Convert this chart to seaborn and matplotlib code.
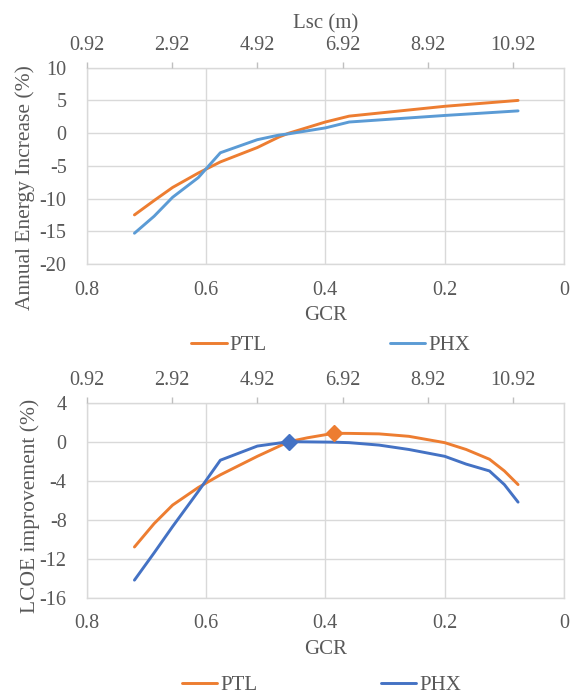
import matplotlib
matplotlib.use("Agg")
import numpy as np
import pandas as pd
import matplotlib.pyplot as plt
import seaborn as sns

# ---- values ----
gcr_energy = [0.72, 0.687, 0.656, 0.613, 0.576, 0.514, 0.478, 0.461, 0.40, 0.36, 0.2, 0.077]
ptl_energy = [-12.5, -10.3, -8.3, -6.1, -4.4, -2.2, -0.6, 0.0, 1.7, 2.6, 4.1, 5.0]
phx_energy = [-15.3, -12.7, -9.8, -6.8, -3.0, -1.0, -0.3, -0.1, 0.8, 1.7, 2.7, 3.4]

gcr_lcoe = [0.72, 0.687, 0.656, 0.613, 0.576, 0.514, 0.461, 0.43, 0.386, 0.36,
            0.31, 0.26, 0.2, 0.164, 0.125, 0.1, 0.077]
ptl_lcoe = [-10.8, -8.4, -6.5, -4.7, -3.4, -1.5, 0.0, 0.4, 0.86, 0.85,
            0.8, 0.55, -0.1, -0.8, -1.8, -3.0, -4.4]
phx_lcoe = [-14.2, -11.4, -8.7, -5.1, -1.9, -0.45, 0.0, -0.02, -0.05, -0.1,
            -0.35, -0.8, -1.5, -2.3, -3.0, -4.4, -6.2]

sites = ["PTL", "PHX"]
lsc_ticks = [0.92, 2.92, 4.92, 6.92, 8.92, 10.92]
lsc_range = (0.92, 12.11)

ORANGE = "#ED7D31"
TEXT = "#595959"
GRID = "#D9D9D9"

sns.set_theme(style="whitegrid")
plt.rcParams["font.family"] = ["Liberation Serif", "DejaVu Serif"]
plt.rcParams["axes.unicode_minus"] = False


def long_frame(gcr, ptl, phx):
    return pd.DataFrame({
        "GCR": gcr + gcr,
        "value": ptl + phx,
        "Site": ["PTL"] * len(gcr) + ["PHX"] * len(gcr),
    })


def draw_panel(ax, gcr, ptl, phx, phx_color, ylim, yticks, ylabel,
               ylab_pos, xlab_y, leg_pos, markers=False, lsc_label=False):
    df = long_frame(gcr, ptl, phx)
    pal = {"PTL": ORANGE, "PHX": phx_color}
    sns.lineplot(data=df, x="GCR", y="value", hue="Site", hue_order=sites,
                 palette=pal, linewidth=2.1, ax=ax, sort=True)

    if markers:
        # optimum of each series
        for name, vals in zip(sites, [ptl, phx]):
            i = int(np.argmax(vals))
            ax.plot(gcr[i], vals[i], marker="D", markersize=8,
                    color=pal[name], zorder=5, linestyle="none")

    ax.set_xlim(0.8, 0)
    ax.set_xticks([0.8, 0.6, 0.4, 0.2, 0])
    ax.set_xticklabels(["0.8", "0.6", "0.4", "0.2", "0"])
    ax.set_ylim(*ylim)
    ax.set_yticks(yticks)
    ax.grid(True, color=GRID, linewidth=1)
    for s in ax.spines.values():
        s.set_color(GRID)
        s.set_linewidth(1)
    ax.tick_params(axis="both", length=0, labelsize=14.5, colors=TEXT)
    ax.tick_params(axis="y", pad=14.5)
    ax.tick_params(axis="x", pad=12)

    ax.set_xlabel("GCR", fontsize=15, color=TEXT)
    ax.xaxis.set_label_coords(0.5, xlab_y)
    ax.set_ylabel(ylabel, fontsize=15.5, color=TEXT)
    ax.yaxis.set_label_coords(*ylab_pos)

    sns.move_legend(ax, "center", bbox_to_anchor=leg_pos, ncol=2, frameon=False,
                    title=None, fontsize=15, handlelength=1.7,
                    handletextpad=0.15, columnspacing=5.9)
    for t in ax.get_legend().get_texts():
        t.set_color(TEXT)

    ax2 = ax.twiny()
    ax2.set_xlim(*lsc_range)
    ax2.set_xticks(lsc_ticks)
    ax2.set_xticklabels([f"{v:.2f}" for v in lsc_ticks])
    ax2.grid(False)
    for s in ax2.spines.values():
        s.set_visible(False)
    ax2.tick_params(axis="x", top=True, length=4, width=1, color="#BFBFBF",
                    labelsize=14.5, labelcolor=TEXT, pad=5)
    if lsc_label:
        ax2.set_xlabel("Lsc (m)", fontsize=15, color=TEXT)
        ax2.xaxis.set_label_coords(0.5, 1.2)
    return ax2


fig = plt.figure(figsize=(5.75, 6.98), dpi=100)
ax_top = fig.add_axes([0.1508, 0.6218, 0.8301, 0.2812])
ax_bot = fig.add_axes([0.1508, 0.1437, 0.8301, 0.2794])

draw_panel(ax_top, gcr_energy, ptl_energy, phx_energy, "#5B9BD5",
           (-20, 10), list(range(-20, 11, 5)), "Annual Energy Increase (%)",
           (-0.108, 0.387), -0.214, (0.511, -0.415), lsc_label=True)
draw_panel(ax_bot, gcr_lcoe, ptl_lcoe, phx_lcoe, "#4472C4",
           (-16, 4), list(range(-16, 5, 4)), "LCOE improvement (%)",
           (-0.098, 0.47), -0.219, (0.492, -0.451), markers=True)

fig.savefig("out.png", dpi=100)
